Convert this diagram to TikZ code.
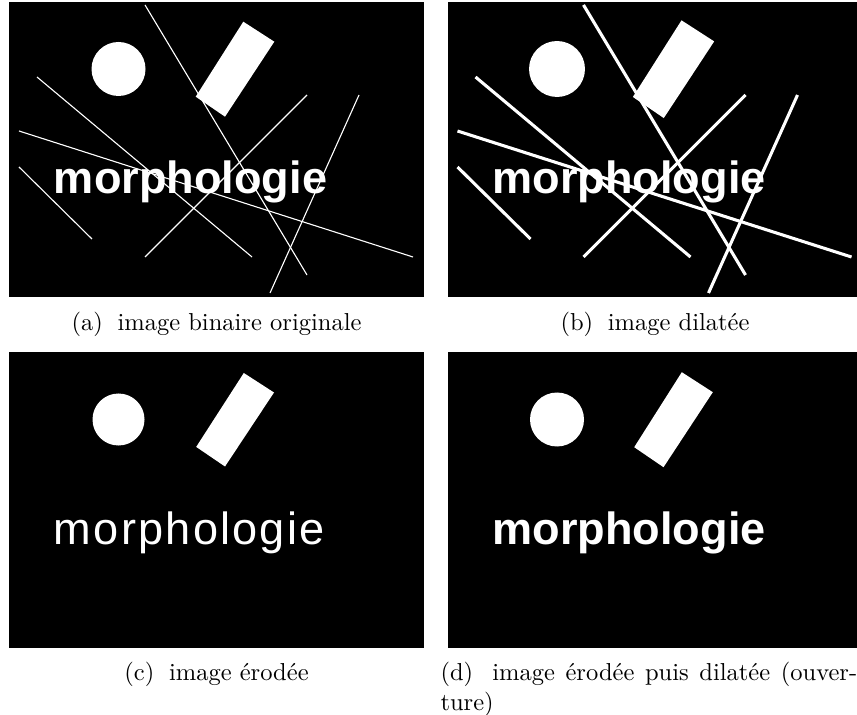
\documentclass[tikz,border=0pt]{standalone}
\usepackage{fontspec}
\usepackage{tikz}
\usetikzlibrary{positioning}
\newfontfamily\morphfont{Liberation Sans}
\newfontfamily\morphthin[LetterSpace=5.0]{Liberation Sans}
\definecolor{bg}{HTML}{000000}
\definecolor{fg}{HTML}{FFFFFF}

\begin{document}
\begin{tikzpicture}[
      x=0.408pt, y=-0.408pt,
      panel/.style={fill=bg},
      blob/.style={fill=fg},
      fatblob/.style={fill=fg, draw=fg, line width=0.8pt},
      ray/.style={fg, line width=0.45pt},
      fatray/.style={fg, line width=1.25pt},
      word/.style={text=fg, inner sep=0pt, anchor=base west,
                   font=\morphfont\bfseries\fontsize{18.4}{20}\selectfont},
      thinword/.style={word, font=\morphthin\fontsize{18.4}{20}\selectfont},
      lbl/.style={inner sep=0pt, anchor=base, font=\normalsize}
    ]
      \useasboundingbox (0,0) rectangle (857,715);
      % (a) original
      \begin{scope}[shift={(9,2)}]
        \fill[panel] (0,0) rectangle (415,295);
        \fill[blob] (109.5,67) circle [radius=27];
        \fill[blob] (234.3,19.7) -- (265.3,39.7) -- (216,114.7) -- (186.7,94.7) -- cycle;
        \node[word] (wa) at (44.5,192) {morphologie};
        \draw[ray] (136,3) -- (298,273);
        \draw[ray] (28,75) -- (243,255);
        \draw[ray] (10,129) -- (404,255);
        \draw[ray] (10,165) -- (83,237);
        \draw[ray] (136,255) -- (298,93);
        \draw[ray] (350,93) -- (261,291);
      \end{scope}
      % (b) dilated
      \begin{scope}[shift={(447.5,2)}]
        \fill[panel] (0,0) rectangle (415,295);
        \filldraw[fatblob] (109.5,67) circle [radius=27];
        \filldraw[fatblob] (234.3,19.7) -- (265.3,39.7) -- (216,114.7) -- (186.7,94.7) -- cycle;
        \node[word] (wb) at (44.5,192) {morphologie};
        \draw[fatray] (136,3) -- (298,273);
        \draw[fatray] (28,75) -- (243,255);
        \draw[fatray] (10,129) -- (404,255);
        \draw[fatray] (10,165) -- (83,237);
        \draw[fatray] (136,255) -- (298,93);
        \draw[fatray] (350,93) -- (261,291);
      \end{scope}
      % (c) eroded
      \begin{scope}[shift={(9,352.5)}]
        \fill[panel] (0,0) rectangle (415,295);
        \fill[blob] (109.5,67) circle [radius=26];
        \fill[blob] (234.8,20.5) -- (265,40) -- (216,114) -- (187.2,94.4) -- cycle;
        \node[thinword] (wc) at (44.5,192) {morphologie};
      \end{scope}
      % (d) opening
      \begin{scope}[shift={(447.5,352.5)}]
        \fill[panel] (0,0) rectangle (415,295);
        \fill[blob] (109.5,67) circle [radius=27];
        \fill[blob] (234.3,19.7) -- (265.3,39.7) -- (216,114.7) -- (186.7,94.7) -- cycle;
        \node[word] (wd) at (44.5,192) {morphologie};
      \end{scope}
      % captions
      \node[lbl] (capa) at (216.5,330.5) {(a)\hspace{6pt}image binaire originale};
      \node[lbl] (capb) at (655,330.5) {(b)\hspace{6pt}image dilatée};
      \node[lbl] (capc) at (216.5,680.6) {(c)\hspace{6pt}image érodée};
      \node[lbl, anchor=base west] (capd) at (440,680.6)
        {\parbox[t]{170pt}{(d)\hspace{6pt plus 3pt}image érodée puis dilatée (ouver-\linebreak ture)}};
    \end{tikzpicture}
\end{document}
